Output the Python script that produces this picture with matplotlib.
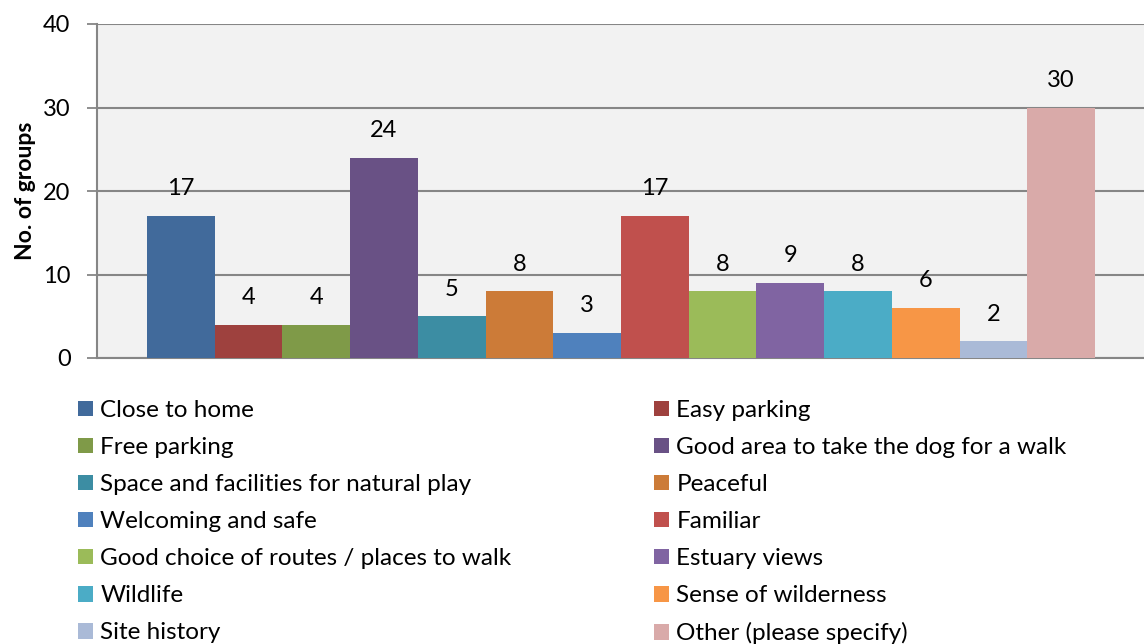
import matplotlib.pyplot as plt
from matplotlib.patches import Patch

plt.rcParams['font.family'] = ['Lato', 'DejaVu Sans']

# Reasons given by groups, in the order they appear in the survey
reasons = [
    'Close to home', 'Easy parking', 'Free parking',
    'Good area to take the dog for a walk',
    'Space and facilities for natural play', 'Peaceful',
    'Welcoming and safe', 'Familiar',
    'Good choice of routes / places to walk', 'Estuary views',
    'Wildlife', 'Sense of wilderness', 'Site history',
    'Other (please specify)',
]
counts = [17, 4, 4, 24, 5, 8, 3, 17, 8, 9, 8, 6, 2, 30]
colors = [
    '#416A9B', '#9E413E', '#7F9A48', '#695185', '#3C8DA3', '#CC7B38',
    '#4F81BD', '#C0504D', '#9BBB59', '#8064A2', '#4BACC6', '#F79646',
    '#AABAD7', '#D9AAA9',
]

fig = plt.figure(figsize=(11.44, 6.44), dpi=100)
ax = fig.add_axes([97 / 1144, 1 - 358 / 644, 1048 / 1144, 334 / 644])
ax.set_facecolor('#F2F2F2')

n = len(counts)
bar_w = 1.0
xs = [i * bar_w for i in range(n)]
bars = ax.bar(xs, counts, width=bar_w, color=colors, zorder=3)
for x, v in zip(xs, counts):
    ax.annotate(str(v), (x, v), xytext=(0, 19.5), textcoords='offset points',
                ha='center', va='center', fontsize=17, color='black')

# category spans the whole plot area with Excel-style gaps at either side
pad = (147 - 97) / ((1095 - 147) / n)
ax.set_xlim(xs[0] - bar_w / 2 - pad, xs[-1] + bar_w / 2 + pad)
ax.set_ylim(0, 40)
ax.set_yticks([0, 10, 20, 30, 40])
ax.set_xticks([])
ax.yaxis.grid(True, color='#868686', linewidth=1.5, zorder=0)
ax.tick_params(axis='y', length=7, width=1.3, color='#868686',
               labelsize=17, pad=12)
for s in ['top', 'right']:
    ax.spines[s].set_visible(False)
for s in ['left', 'bottom']:
    ax.spines[s].set_color('#868686')
    ax.spines[s].set_linewidth(1.5)
ax.set_ylabel('No. of groups', fontsize=16.5, fontweight='bold', labelpad=5)

# legend laid out row by row in two columns
handles = [Patch(facecolor=c, edgecolor='none') for c in colors]
leg_kw = dict(loc='upper left', frameon=False, fontsize=17.5,
              handlelength=0.62, handleheight=0.62, handletextpad=0.3,
              labelspacing=0.66, borderaxespad=0, borderpad=0)
fig.legend(handles[0::2], reasons[0::2],
           bbox_to_anchor=(78 / 1144, 1 - 400 / 644), **leg_kw)
fig.legend(handles[1::2], reasons[1::2],
           bbox_to_anchor=(654 / 1144, 1 - 400 / 644), **leg_kw)

fig.savefig('out.png', dpi=100)
